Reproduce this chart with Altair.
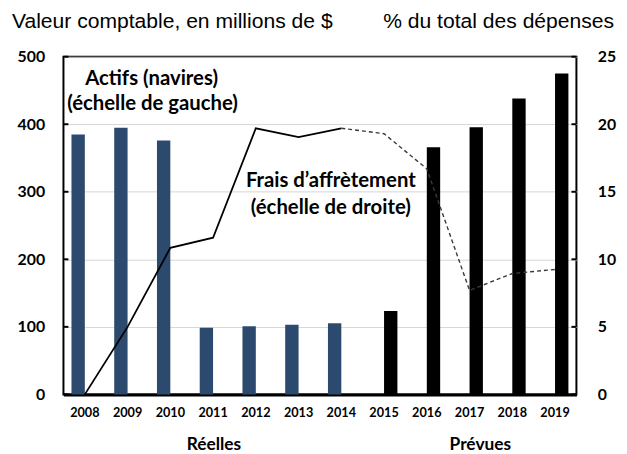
import altair as alt
import pandas as pd

# ---------------- data ----------------
years = [str(y) for y in range(2008, 2020)]
bar_type = ["Réelles"] * 7 + ["Prévues"] * 5
assets = [385, 395, 376, 98.5, 101, 103, 105.5, 123.5, 366, 395.5, 438, 475]
charter_pct = [0, 5.0, 10.85, 11.6, 19.7, 19.05, 19.7, 19.3, 16.7, 7.7, 8.95, 9.25]
left_ticks = [0, 100, 200, 300, 400, 500]
right_ticks = [0, 5, 10, 15, 20, 25]
type_domain = ["Réelles", "Prévues"]

title_left = ["Valeur comptable, en millions de $"]
title_right = ["% du total des dépenses"]
ann_assets_1 = ["Actifs (navires)"]
ann_assets_2 = ["(échelle de gauche)"]
ann_line_1 = ["Frais d’affrètement"]
ann_line_2 = ["(échelle de droite)"]
group_actual = ["Réelles"]
group_forecast = ["Prévues"]

bars_df = pd.DataFrame({"year": years, "type": bar_type, "value": assets})
rows = []
for i, (yr, v) in enumerate(zip(years, charter_pct)):
    if i <= 6:
        rows.append({"year": yr, "pct": v, "seg": "réel"})
    if i >= 6:
        rows.append({"year": yr, "pct": v, "seg": "prévu"})
line_df = pd.DataFrame(rows)

W, H = 518, 341
FONT = "Lato"
BLUE = "#2C4A6E"

x_scale = alt.Scale(domain=years, paddingInner=0.375, paddingOuter=0.1875)
x_axis = alt.Axis(
    title=None, labelAngle=0, labelFont=FONT, labelFontWeight="bold",
    labelFontSize=12.8, labelColor="black", labelPadding=12,
    ticks=False, domain=True, domainColor="black", domainWidth=3,
)
left_scale = alt.Scale(domain=[0, 500], nice=False, zero=True)
right_scale = alt.Scale(domain=[0, 25], nice=False, zero=True)


def text_layer(lines, x, y, size=20.5, weight="bold", font=FONT, align="center"):
    return alt.Chart(pd.DataFrame({"t": lines})).mark_text(
        font=font, fontSize=size, fontWeight=weight, color="black", align=align,
        baseline="middle",
    ).encode(text="t:N", x=alt.value(x), y=alt.value(y))


bars = alt.Chart(bars_df).mark_bar().encode(
    x=alt.X("year:O", scale=x_scale, axis=x_axis),
    xOffset=alt.XOffset("type:N", scale=alt.Scale(domain=type_domain, paddingInner=0, paddingOuter=0)),
    y=alt.Y("value:Q", scale=left_scale, axis=alt.Axis(
        orient="left", values=left_ticks, grid=True, gridColor="#d6d6d6", gridWidth=1,
        domain=False, ticks=False, labelPadding=19, labelFont=FONT,
        labelFontWeight="bold", labelFontSize=16, labelColor="black", title=None)),
    color=alt.Color("type:N", scale=alt.Scale(domain=type_domain, range=[BLUE, "#000000"]), legend=None),
)

left_tick_rules = alt.Chart(pd.DataFrame({"v": left_ticks})).mark_rule(color="black", strokeWidth=2).encode(
    y=alt.Y("v:Q", scale=left_scale),
    x=alt.value(0), x2=alt.value(5),
)

left_group = alt.layer(
    bars, left_tick_rules,
    text_layer(ann_assets_1, 89, 23),
    text_layer(ann_assets_2, 90, 48),
    text_layer(ann_line_1, 270, 126),
    text_layer(ann_line_2, 270, 153),
    text_layer(title_left, -52, -35, size=21.3, weight="normal", font="Liberation Sans", align="left"),
    text_layer(title_right, 556, -35, size=21.3, weight="normal", font="Liberation Sans", align="right"),
    text_layer(group_actual, 152, 51 + H, size=17.5),
    text_layer(group_forecast, 421, 51 + H, size=17.5),
)

solid = alt.Chart(line_df).transform_filter(alt.datum.seg == "réel").mark_line(
    color="black", strokeWidth=1.8
).encode(
    x=alt.X("year:O", scale=x_scale, axis=x_axis),
    y=alt.Y("pct:Q", scale=right_scale, axis=alt.Axis(
        orient="right", values=right_ticks, grid=False, domain=False, ticks=False,
        labelPadding=21, labelFont=FONT, labelFontWeight="bold", labelFontSize=16,
        labelColor="black", title=None)),
)
dashed = alt.Chart(line_df).transform_filter(alt.datum.seg == "prévu").mark_line(
    color="#3a3a3a", strokeWidth=1.4, strokeDash=[4, 3]
).encode(
    x=alt.X("year:O", scale=x_scale, axis=x_axis),
    y=alt.Y("pct:Q", scale=right_scale),
)
right_tick_rules = alt.Chart(pd.DataFrame({"v": right_ticks})).mark_rule(color="black", strokeWidth=2).encode(
    y=alt.Y("v:Q", scale=right_scale),
    x=alt.value(W - 5), x2=alt.value(W),
)
right_group = alt.layer(solid, dashed, right_tick_rules)

chart = alt.layer(left_group, right_group).resolve_scale(y="independent").properties(
    width=W, height=H,
    autosize=alt.AutoSizeParams(type="none"),
    padding={"left": 56, "top": 47, "right": 43, "bottom": 58},
).configure_view(stroke="black", strokeWidth=2)

chart.save("out.html", embed_options={"renderer": "svg", "actions": False})
